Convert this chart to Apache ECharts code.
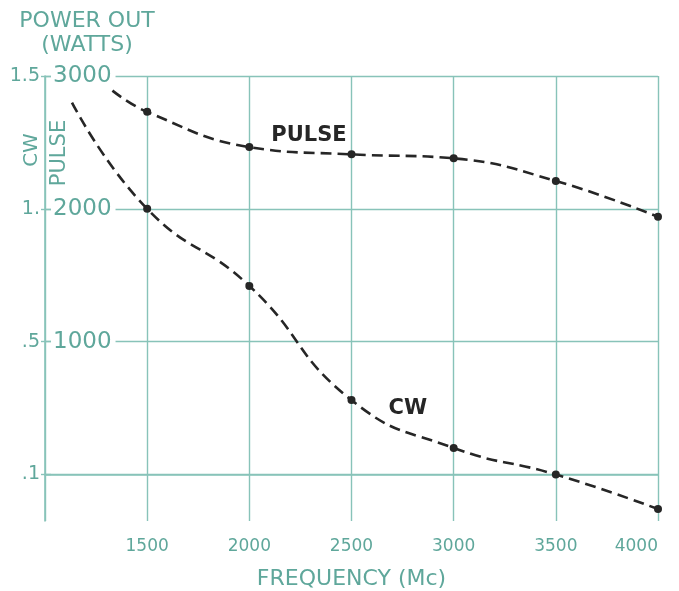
<!DOCTYPE html>
<html>
<head>
<meta charset="utf-8">
<style>
  html, body { margin: 0; padding: 0; background: #ffffff; }
  #chart { width: 679px; height: 591px; }
</style>
<script src="https://cdn.jsdelivr.net/npm/echarts@6/dist/echarts.min.js"></script>
</head>
<body>
<div id="chart"></div>
<script>
// Power output versus frequency, pulse and CW operation
const freqTicks = [1500, 2000, 2500, 3000, 3500, 4000];

const pulseFreqs = [1330, 1500, 2000, 2500, 3000, 3500, 4000];
const pulseWatts = [2890, 2730, 2465, 2410, 2380, 2210, 1940];

const cwFreqs = [1132, 1500, 2000, 2500, 3000, 3500, 4000];
const cwKw = [1.40, 1.0, 0.71, 0.28, 0.10, 0.0, -0.13];

const pulseTickValues = [1000, 2000, 3000];
const cwTickValues = [0, 0.5, 1, 1.5];
const cwTickLabels = ['.1', '.5', '1.', '1.5'];

const TEAL = '#5fa79b';
const GRID = '#88c3b9';
const INK = '#262626';
const FONT = '"DejaVu Sans", "Noto Sans", sans-serif';

// Points measured on the curve carry a dot; curve lead-in points do not
function seriesData(xs, ys) {
  return xs.map((x, i) => ({
    value: [x, ys[i]],
    symbol: i === 0 ? 'none' : 'circle'
  }));
}

const pulseData = seriesData(pulseFreqs, pulseWatts);
pulseData[2].label = {
  show: true, formatter: 'PULSE', position: 'right', distance: 18,
  offset: [0, -12], color: INK, fontSize: 21, fontWeight: 'bold', fontFamily: FONT
};

const cwData = seriesData(cwFreqs, cwKw);
cwData[3].label = {
  show: true, formatter: 'CW', position: 'right', distance: 33,
  offset: [0, 8], color: INK, fontSize: 21, fontWeight: 'bold', fontFamily: FONT
};

const chart = echarts.init(document.getElementById('chart'), null, { renderer: 'canvas' });

chart.setOption({
  backgroundColor: '#ffffff',
  animation: false,
  title: {
    text: 'POWER OUT\n(WATTS)',
    left: 82,
    top: 4,
    textAlign: 'center',
    textStyle: { color: TEAL, fontSize: 22, fontWeight: 'normal', fontFamily: FONT, lineHeight: 24 }
  },
  graphic: [
    {
      type: 'text', x: 32, y: 150, rotation: Math.PI / 2,
      style: { text: 'CW', fill: TEAL, font: '20px ' + FONT, align: 'center', verticalAlign: 'middle' }
    },
    {
      type: 'text', x: 60, y: 153, rotation: Math.PI / 2,
      style: { text: 'PULSE', fill: TEAL, font: '21px ' + FONT, align: 'center', verticalAlign: 'middle' }
    }
  ],
  grid: { left: 45, right: 21, top: 76, bottom: 70, outerBoundsMode: 'none' },
  xAxis: {
    type: 'value',
    min: 1000,
    max: 4000,
    interval: 500,
    name: 'FREQUENCY (Mc)',
    nameLocation: 'middle',
    nameGap: 47,
    nameTextStyle: { color: TEAL, fontSize: 22, fontFamily: FONT, verticalAlign: 'top' },
    axisLine: { show: true, lineStyle: { color: GRID, width: 1.6 } },
    axisTick: { show: false },
    splitLine: { show: true, lineStyle: { color: GRID, width: 1.4 } },
    axisLabel: {
      color: TEAL, fontSize: 17, fontFamily: FONT, margin: 17,
      showMinLabel: false, alignMaxLabel: 'right',
      formatter: v => (freqTicks.includes(v) ? String(v) : '')
    }
  },
  yAxis: [
    {
      type: 'value',
      min: -350,
      max: 3000,
      position: 'left',
      axisLine: { show: true, lineStyle: { color: GRID, width: 1.6 } },
      axisTick: { show: true, inside: true, length: 6, customValues: [0].concat(pulseTickValues), lineStyle: { color: GRID, width: 1.4 } },
      splitLine: { show: true, lineStyle: { color: GRID, width: 1.4 } },
      axisLabel: {
        inside: true, margin: 6, customValues: pulseTickValues,
        color: TEAL, fontSize: 23, fontFamily: FONT,
        backgroundColor: '#ffffff', padding: [0, 4, 0, 2],
        formatter: v => String(v)
      }
    },
    {
      type: 'value',
      min: -0.175,
      max: 1.5,
      position: 'left',
      axisLine: { show: false },
      axisTick: { show: true, length: 4, customValues: cwTickValues, lineStyle: { color: GRID, width: 1.4 } },
      splitLine: { show: false },
      axisLabel: {
        margin: 5, customValues: cwTickValues,
        color: TEAL, fontSize: 19, fontFamily: FONT,
        formatter: v => {
          const i = cwTickValues.findIndex(t => Math.abs(t - v) < 1e-9);
          return i >= 0 ? cwTickLabels[i] : '';
        }
      }
    }
  ],
  series: [
    {
      name: 'PULSE',
      type: 'line',
      yAxisIndex: 0,
      smooth: 0.45,
      data: pulseData,
      symbolSize: 8,
      itemStyle: { color: INK },
      lineStyle: { color: INK, width: 2.6, type: [11, 6] },
      z: 5
    },
    {
      name: 'CW',
      type: 'line',
      yAxisIndex: 1,
      smooth: 0.5,
      data: cwData,
      symbolSize: 8,
      itemStyle: { color: INK },
      lineStyle: { color: INK, width: 2.6, type: [11, 6] },
      z: 5
    }
  ]
});
</script>
</body>
</html>
